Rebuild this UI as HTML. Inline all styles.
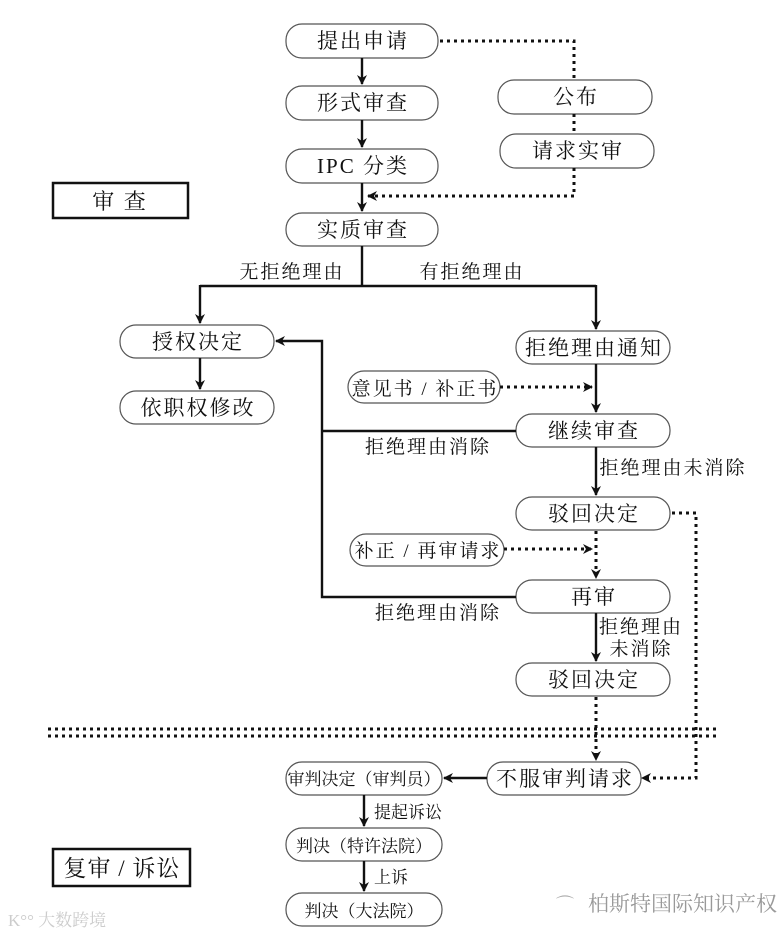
<!DOCTYPE html>
<html><head><meta charset="utf-8"><style>
html,body{margin:0;padding:0;background:#fff;}
svg{display:block}
text{font-family:"Liberation Serif","Noto Serif CJK SC",serif;fill:#111;}
</style></head><body>
<svg width="780" height="938" viewBox="0 0 780 938" xmlns="http://www.w3.org/2000/svg">
<defs>
<marker id="a" markerWidth="10" markerHeight="10" refX="9" refY="5" orient="auto" markerUnits="userSpaceOnUse"><path d="M0,0 L10,5 L0,10 L3,5 Z" fill="#111"/></marker>
</defs>
<g fill="#fff" stroke="#555" stroke-width="1.2">
<rect x="286" y="24" width="152" height="34" rx="16"/>
<rect x="286" y="86" width="152" height="34" rx="16"/>
<rect x="286" y="149" width="152" height="34" rx="16"/>
<rect x="286" y="213" width="152" height="33" rx="16"/>
<rect x="498" y="80" width="154" height="34" rx="16"/>
<rect x="500" y="134" width="154" height="34" rx="16"/>
<rect x="120" y="325" width="154" height="33" rx="16"/>
<rect x="120" y="391" width="154" height="33" rx="16"/>
<rect x="516" y="331" width="154" height="33" rx="16"/>
<rect x="348" y="371" width="152" height="32" rx="16"/>
<rect x="516" y="414" width="154" height="33" rx="16"/>
<rect x="516" y="497" width="154" height="33" rx="16"/>
<rect x="350" y="534" width="154" height="32" rx="16"/>
<rect x="516" y="580" width="154" height="33" rx="16"/>
<rect x="516" y="663" width="154" height="33" rx="16"/>
<rect x="487" y="762" width="154" height="33" rx="16"/>
<rect x="286" y="762" width="156" height="33" rx="16"/>
<rect x="286" y="828" width="156" height="33" rx="16"/>
<rect x="286" y="893" width="156" height="33" rx="16"/>
</g>
<g fill="none" stroke="#111" stroke-width="2.5">
<rect x="53" y="183" width="135" height="35"/>
<rect x="53" y="849" width="137" height="37"/>
</g>
<g stroke="#111" stroke-width="2.4" fill="none">
<line x1="362" y1="58" x2="362" y2="84" marker-end="url(#a)"/>
<line x1="362" y1="120" x2="362" y2="147" marker-end="url(#a)"/>
<line x1="362" y1="183" x2="362" y2="211" marker-end="url(#a)"/>
<polyline points="362,246 362,286"/>
<polyline points="200,286 596,286"/>
<line x1="200" y1="285" x2="200" y2="323" marker-end="url(#a)"/>
<line x1="596" y1="285" x2="596" y2="329" marker-end="url(#a)"/>
<line x1="200" y1="358" x2="200" y2="389" marker-end="url(#a)"/>
<line x1="596" y1="364" x2="596" y2="412" marker-end="url(#a)"/>
<polyline points="516,431 322,431"/>
<polyline points="516,597 322,597 322,341 276,341" marker-end="url(#a)"/>
<line x1="596" y1="447" x2="596" y2="495" marker-end="url(#a)"/>
<line x1="596" y1="613" x2="596" y2="661" marker-end="url(#a)"/>
<line x1="487" y1="778" x2="444" y2="778" marker-end="url(#a)"/>
<line x1="364" y1="795" x2="364" y2="826" marker-end="url(#a)"/>
<line x1="364" y1="861" x2="364" y2="891" marker-end="url(#a)"/>
</g>
<g stroke="#111" stroke-width="3" fill="none" stroke-dasharray="3,4">
<polyline points="440,41 574,41 574,80"/>
<line x1="574" y1="114" x2="574" y2="134"/>
<polyline points="574,168 574,196 368,196" marker-end="url(#a)"/>
<line x1="500" y1="387" x2="592" y2="387" marker-end="url(#a)"/>
<line x1="504" y1="549" x2="592" y2="549" marker-end="url(#a)"/>
<line x1="596" y1="531" x2="596" y2="578" marker-end="url(#a)"/>
<polyline points="672,513 696,513 696,778 642,778" marker-end="url(#a)"/>
<line x1="596" y1="697" x2="596" y2="760" marker-end="url(#a)"/>
<line x1="48" y1="729" x2="720" y2="729"/>
<line x1="48" y1="736" x2="720" y2="736"/>
</g>
<g font-size="21" text-anchor="middle" letter-spacing="2">
<text x="363" y="48">提出申请</text>
<text x="363" y="110">形式审查</text>
<text x="363" y="173">IPC 分类</text>
<text x="363" y="237">实质审查</text>
<text x="576" y="104">公布</text>
<text x="578" y="158">请求实审</text>
<text x="198" y="349">授权决定</text>
<text x="198" y="415">依职权修改</text>
<text x="594" y="355">拒绝理由通知</text>
<text x="425" y="395" font-size="19">意见书 / 补正书</text>
<text x="594" y="438">继续审查</text>
<text x="594" y="521">驳回决定</text>
<text x="428" y="557" font-size="19">补正 / 再审请求</text>
<text x="594" y="604">再审</text>
<text x="594" y="687">驳回决定</text>
<text x="565" y="786">不服审判请求</text>
<text x="120" y="209" font-size="22">审  查</text>
<text x="122" y="876" font-size="23" letter-spacing="1">复审 / 诉讼</text>
</g>
<g font-size="17" text-anchor="middle">
<text x="364" y="785">审判决定（审判员）</text>
<text x="364" y="852">判决（特许法院）</text>
<text x="364" y="917">判决（大法院）</text>
</g>
<g font-size="19" text-anchor="middle" letter-spacing="2">
<text x="292" y="278">无拒绝理由</text>
<text x="472" y="278">有拒绝理由</text>
<text x="428" y="453">拒绝理由消除</text>
<text x="673" y="474">拒绝理由未消除</text>
<text x="438" y="619">拒绝理由消除</text>
<text x="641" y="633">拒绝理由</text>
<text x="641" y="655">未消除</text>
<text x="408" y="818" font-size="17" letter-spacing="0">提起诉讼</text>
<text x="391" y="883" font-size="17" letter-spacing="0">上诉</text>
</g>
<text x="588" y="911" font-size="21" style="fill:#999">柏斯特国际知识产权</text>
<text x="556" y="911" font-size="18" style="fill:#aaa">⌒</text>
<text x="8" y="926" font-size="17" style="fill:#ccc">K°° 大数跨境</text>
</svg>
</body></html>
